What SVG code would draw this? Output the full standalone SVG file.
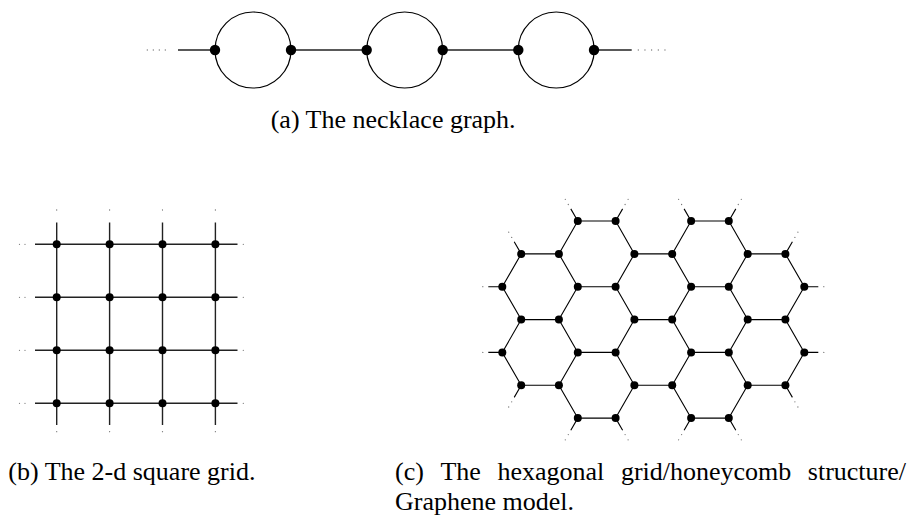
<svg xmlns="http://www.w3.org/2000/svg" width="916" height="517" viewBox="0 0 916 517">
<style>
.bg{fill:#ffffff}
.e{stroke:#000;stroke-width:1.1;fill:none}
.eg{stroke:#222;stroke-width:1.4;fill:none}
.ring{stroke:#000;stroke-width:1.2;fill:none}
.dot{stroke:#777;stroke-width:1.3;stroke-linecap:round;stroke-dasharray:0 6;fill:none}
.dn{fill:#000}
.cap{font-family:"Liberation Serif","Times New Roman",serif;font-size:26px;fill:#000}
</style>
<rect class="bg" x="0" y="0" width="916" height="517"/>

<!-- (a) necklace -->
<g id="connectors-a">
<line class="eg" x1="178" y1="50" x2="215" y2="50"/>
<line class="eg" x1="291" y1="50" x2="366.7" y2="50"/>
<line class="eg" x1="442.7" y1="50" x2="518.3" y2="50"/>
<line class="eg" x1="594" y1="50" x2="631.7" y2="50"/>
<line class="dot" x1="147.3" y1="50" x2="171.3" y2="50"/>
<line class="dot" x1="638.3" y1="50" x2="665" y2="50" style="stroke-dasharray:0 6.67"/>
<circle class="ring" cx="253" cy="50" r="38"/>
<circle class="ring" cx="404.7" cy="50" r="38"/>
<circle class="ring" cx="556.2" cy="50" r="38"/>
</g>
<g id="a-n1"><circle class="dn" cx="215" cy="50" r="5.2"/></g>
<g id="a-n2"><circle class="dn" cx="291" cy="50" r="5.2"/></g>
<g id="a-n3"><circle class="dn" cx="366.7" cy="50" r="5.2"/></g>
<g id="a-n4"><circle class="dn" cx="442.7" cy="50" r="5.2"/></g>
<g id="a-n5"><circle class="dn" cx="518.3" cy="50" r="5.2"/></g>
<g id="a-n6"><circle class="dn" cx="594" cy="50" r="5.2"/></g>
<text class="cap" x="270.7" y="128">(a) The necklace graph.</text>

<!-- (b) square grid -->
<g id="connectors-b">
<path class="eg" d="M35 244.3H237.5M35 297.3H237.5M35 350.3H237.5M35 403.3H237.5M56.7 222.5V425M109.6 222.5V425M162.5 222.5V425M215.4 222.5V425"/>
<path class="dot" style="stroke-dasharray:0 5.5" d="M19.5 244.3H30.5M19.5 297.3H30.5M19.5 350.3H30.5M19.5 403.3H30.5"/>
<path class="dot" d="M243.3 244.3H249.3M243.3 297.3H249.3M243.3 350.3H249.3M243.3 403.3H249.3"/>
<path class="dot" d="M56.7 210V216M109.6 210V216M162.5 210V216M215.4 210V216M56.7 431.7V437.7M109.6 431.7V437.7M162.5 431.7V437.7M215.4 431.7V437.7"/>
</g>
<g id="b-n11"><circle class="dn" cx="56.7" cy="244.3" r="4"/></g>
<g id="b-n12"><circle class="dn" cx="109.6" cy="244.3" r="4"/></g>
<g id="b-n13"><circle class="dn" cx="162.5" cy="244.3" r="4"/></g>
<g id="b-n14"><circle class="dn" cx="215.4" cy="244.3" r="4"/></g>
<g id="b-n21"><circle class="dn" cx="56.7" cy="297.3" r="4"/></g>
<g id="b-n22"><circle class="dn" cx="109.6" cy="297.3" r="4"/></g>
<g id="b-n23"><circle class="dn" cx="162.5" cy="297.3" r="4"/></g>
<g id="b-n24"><circle class="dn" cx="215.4" cy="297.3" r="4"/></g>
<g id="b-n31"><circle class="dn" cx="56.7" cy="350.3" r="4"/></g>
<g id="b-n32"><circle class="dn" cx="109.6" cy="350.3" r="4"/></g>
<g id="b-n33"><circle class="dn" cx="162.5" cy="350.3" r="4"/></g>
<g id="b-n34"><circle class="dn" cx="215.4" cy="350.3" r="4"/></g>
<g id="b-n41"><circle class="dn" cx="56.7" cy="403.3" r="4"/></g>
<g id="b-n42"><circle class="dn" cx="109.6" cy="403.3" r="4"/></g>
<g id="b-n43"><circle class="dn" cx="162.5" cy="403.3" r="4"/></g>
<g id="b-n44"><circle class="dn" cx="215.4" cy="403.3" r="4"/></g>
<text class="cap" x="8.3" y="479.5">(b) The 2-d square grid.</text>

<!-- (c) hexagonal grid -->
<g id="connectors-c">
<path class="e" d="
M577.8 221H615.6M691.1 221H728.8
M521.2 253.9H558.9M634.4 253.9H672.2M747.7 253.9H785.4
M577.8 286.7H615.6M691.1 286.7H728.8
M521.2 319.6H558.9M634.4 319.6H672.2M747.7 319.6H785.4
M577.8 352.4H615.6M691.1 352.4H728.8
M521.2 385.3H558.9M634.4 385.3H672.2M747.7 385.3H785.4
M577.8 418.1H615.6M691.1 418.1H728.8
M521.2 253.9L502.3 286.7L521.2 319.6L502.3 352.4L521.2 385.3
M577.8 221L558.9 253.9L577.8 286.7L558.9 319.6L577.8 352.4L558.9 385.3L577.8 418.1
M615.6 221L634.4 253.9L615.6 286.7L634.4 319.6L615.6 352.4L634.4 385.3L615.6 418.1
M691.1 221L672.2 253.9L691.1 286.7L672.2 319.6L691.1 352.4L672.2 385.3L691.1 418.1
M728.8 221L747.7 253.9L728.8 286.7L747.7 319.6L728.8 352.4L747.7 385.3L728.8 418.1
M785.4 253.9L804.3 286.7L785.4 319.6L804.3 352.4L785.4 385.3
M577.8 221L570.8 208.9M615.6 221L622.6 208.9M691.1 221L684.1 208.9M728.8 221L735.8 208.9
M521.2 253.9L514.2 241.8M785.4 253.9L792.4 241.8
M502.3 286.7H488.3M804.3 286.7H818.3M502.3 352.4H488.3M804.3 352.4H818.3
M521.2 385.3L514.2 397.4M785.4 385.3L792.4 397.4
M577.8 418.1L570.8 430.2M615.6 418.1L622.6 430.2M691.1 418.1L684.1 430.2M728.8 418.1L735.8 430.2"/>
<path class="dot" d="
M568.3 204.5L565.3 199.3M625.1 204.5L628.1 199.3M681.6 204.5L678.6 199.3M738.3 204.5L741.3 199.3
M511.7 237.4L508.7 232.2M794.9 237.4L797.9 232.2
M482.8 286.7H476.8M823.8 286.7H829.8M482.8 352.4H476.8M823.8 352.4H829.8
M511.7 401.8L508.7 407M794.9 401.8L797.9 407
M568.3 434.6L565.3 439.8M625.1 434.6L628.1 439.8M681.6 434.6L678.6 439.8M738.3 434.6L741.3 439.8"/>
</g>
<g id="c-r0c3"><circle class="dn" cx="577.8" cy="221" r="4"/></g>
<g id="c-r0c4"><circle class="dn" cx="615.6" cy="221" r="4"/></g>
<g id="c-r0c7"><circle class="dn" cx="691.1" cy="221" r="4"/></g>
<g id="c-r0c8"><circle class="dn" cx="728.8" cy="221" r="4"/></g>
<g id="c-r1c1"><circle class="dn" cx="521.2" cy="253.9" r="4"/></g>
<g id="c-r1c2"><circle class="dn" cx="558.9" cy="253.9" r="4"/></g>
<g id="c-r1c5"><circle class="dn" cx="634.4" cy="253.9" r="4"/></g>
<g id="c-r1c6"><circle class="dn" cx="672.2" cy="253.9" r="4"/></g>
<g id="c-r1c9"><circle class="dn" cx="747.7" cy="253.9" r="4"/></g>
<g id="c-r1c10"><circle class="dn" cx="785.4" cy="253.9" r="4"/></g>
<g id="c-r2c0"><circle class="dn" cx="502.3" cy="286.7" r="4"/></g>
<g id="c-r2c3"><circle class="dn" cx="577.8" cy="286.7" r="4"/></g>
<g id="c-r2c4"><circle class="dn" cx="615.6" cy="286.7" r="4"/></g>
<g id="c-r2c7"><circle class="dn" cx="691.1" cy="286.7" r="4"/></g>
<g id="c-r2c8"><circle class="dn" cx="728.8" cy="286.7" r="4"/></g>
<g id="c-r2c11"><circle class="dn" cx="804.3" cy="286.7" r="4"/></g>
<g id="c-r3c1"><circle class="dn" cx="521.2" cy="319.6" r="4"/></g>
<g id="c-r3c2"><circle class="dn" cx="558.9" cy="319.6" r="4"/></g>
<g id="c-r3c5"><circle class="dn" cx="634.4" cy="319.6" r="4"/></g>
<g id="c-r3c6"><circle class="dn" cx="672.2" cy="319.6" r="4"/></g>
<g id="c-r3c9"><circle class="dn" cx="747.7" cy="319.6" r="4"/></g>
<g id="c-r3c10"><circle class="dn" cx="785.4" cy="319.6" r="4"/></g>
<g id="c-r4c0"><circle class="dn" cx="502.3" cy="352.4" r="4"/></g>
<g id="c-r4c3"><circle class="dn" cx="577.8" cy="352.4" r="4"/></g>
<g id="c-r4c4"><circle class="dn" cx="615.6" cy="352.4" r="4"/></g>
<g id="c-r4c7"><circle class="dn" cx="691.1" cy="352.4" r="4"/></g>
<g id="c-r4c8"><circle class="dn" cx="728.8" cy="352.4" r="4"/></g>
<g id="c-r4c11"><circle class="dn" cx="804.3" cy="352.4" r="4"/></g>
<g id="c-r5c1"><circle class="dn" cx="521.2" cy="385.3" r="4"/></g>
<g id="c-r5c2"><circle class="dn" cx="558.9" cy="385.3" r="4"/></g>
<g id="c-r5c5"><circle class="dn" cx="634.4" cy="385.3" r="4"/></g>
<g id="c-r5c6"><circle class="dn" cx="672.2" cy="385.3" r="4"/></g>
<g id="c-r5c9"><circle class="dn" cx="747.7" cy="385.3" r="4"/></g>
<g id="c-r5c10"><circle class="dn" cx="785.4" cy="385.3" r="4"/></g>
<g id="c-r6c3"><circle class="dn" cx="577.8" cy="418.1" r="4"/></g>
<g id="c-r6c4"><circle class="dn" cx="615.6" cy="418.1" r="4"/></g>
<g id="c-r6c7"><circle class="dn" cx="691.1" cy="418.1" r="4"/></g>
<g id="c-r6c8"><circle class="dn" cx="728.8" cy="418.1" r="4"/></g>
<text class="cap" y="480"><tspan x="395">(c)</tspan><tspan x="440.4">The</tspan><tspan x="497.4">hexagonal</tspan><tspan x="620.9">grid/honeycomb</tspan><tspan x="807.8">structure/</tspan></text>
<text class="cap" x="395" y="510">Graphene model.</text>
</svg>
